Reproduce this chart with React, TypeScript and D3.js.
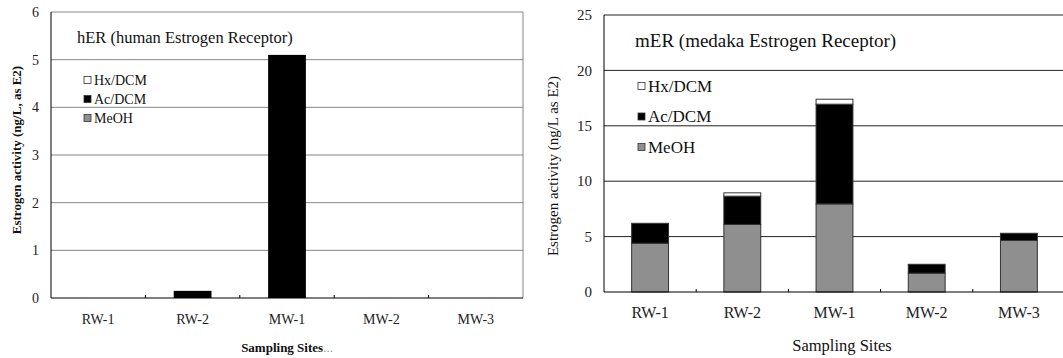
import React from "react";
import * as d3 from "d3";

const sites = ["RW-1", "RW-2", "MW-1", "MW-2", "MW-3"];
const fractions = ["MeOH", "Ac/DCM", "Hx/DCM"];
const legendOrder = ["Hx/DCM", "Ac/DCM", "MeOH"];

const hER_MeOH = [0, 0, 0, 0, 0];
const hER_AcDCM = [0, 0.15, 5.1, 0, 0];
const hER_HxDCM = [0, 0, 0, 0, 0];
const hER_ticks = [0, 1, 2, 3, 4, 5, 6];

const mER_MeOH = [4.4, 6.1, 7.95, 1.7, 4.65];
const mER_AcDCM = [1.8, 2.55, 9.0, 0.8, 0.65];
const mER_HxDCM = [0, 0.3, 0.45, 0, 0];
const mER_ticks = [0, 5, 10, 15, 20, 25];

const colors = { MeOH: "#8f8f8f", "Ac/DCM": "#000000", "Hx/DCM": "#ffffff" };

const FONT = "Liberation Serif, Times New Roman, DejaVu Serif, serif";

type ChartProps = {
  title: string;
  meoh: number[];
  ac: number[];
  hx: number[];
  ticks: number[];
  box: { left: number; right: number; top: number; bottom: number };
  gridColor: string;
  fontSize: number;
  catSize: number;
  titleSize: number;
  titlePos: [number, number];
  legendPos: [number, number];
  legendGap: number;
  legendSize: number;
  yLabel: string;
  yLabelPos: [number, number];
  yLabelBold: boolean;
  yLabelSize: number;
  xLabel: string;
  xLabelPos: [number, number];
  xLabelBold: boolean;
  xLabelSize: number;
  xLabelTail?: string;
  barStroke: string;
  barWidth: number;
  rightBorder: boolean;
};

const Chart = (p: ChartProps) => {
  const rows = sites.map((s, i) => ({ site: s, MeOH: p.meoh[i], "Ac/DCM": p.ac[i], "Hx/DCM": p.hx[i] }));
  const stacked = d3.stack<any>().keys(fractions)(rows);
  const x = d3.scaleBand().domain(sites).range([p.box.left, p.box.right]);
  const y = d3
    .scaleLinear()
    .domain([0, d3.max(p.ticks) as number])
    .range([p.box.bottom, p.box.top]);
  const bw = x.bandwidth() * p.barWidth;
  const boundaries = sites.slice(1).map((s) => x(s) as number);

  return (
    <g style={{ fontFamily: FONT }}>
      {/* gridlines */}
      {p.ticks
        .filter((t) => t > 0)
        .map((t) => (
          <line key={t} x1={p.box.left} x2={p.box.right} y1={y(t)} y2={y(t)} stroke={p.gridColor} strokeWidth={1} />
        ))}
      {p.rightBorder && (
        <line x1={p.box.right} x2={p.box.right} y1={p.box.top} y2={p.box.bottom} stroke={p.gridColor} strokeWidth={1} />
      )}
      {/* bars */}
      {stacked.map((layer) => (
        <g key={layer.key} fill={(colors as any)[layer.key]}>
          {layer.map((d, i) =>
            d[1] - d[0] > 0 ? (
              <rect
                key={i}
                x={(x(sites[i]) as number) + (x.bandwidth() - bw) / 2}
                y={y(d[1])}
                width={bw}
                height={y(d[0]) - y(d[1])}
                stroke={p.barStroke}
                strokeWidth={1}
              />
            ) : null
          )}
        </g>
      ))}
      {/* axes */}
      <line x1={p.box.left} x2={p.box.left} y1={p.box.top} y2={p.box.bottom} stroke="#000" />
      <line x1={p.box.left} x2={p.box.right} y1={p.box.bottom} y2={p.box.bottom} stroke="#000" strokeWidth={1.2} />
      {boundaries.map((b, i) => (
        <line key={i} x1={b} x2={b} y1={p.box.bottom} y2={p.box.bottom - 3} stroke="#000" />
      ))}
      {p.ticks.map((t) => (
        <text key={t} x={p.box.left - 12} y={y(t)} dy="0.35em" textAnchor="end" fontSize={p.fontSize} fill="#222">
          {t}
        </text>
      ))}
      {sites.map((s) => (
        <text
          key={s}
          x={(x(s) as number) + x.bandwidth() / 2}
          y={p.box.bottom + 26}
          textAnchor="middle"
          fontSize={p.catSize}
          fill="#222"
        >
          {s}
        </text>
      ))}
      {/* title */}
      <text x={p.titlePos[0]} y={p.titlePos[1]} dy="0.35em" fontSize={p.titleSize} fill="#111">
        {p.title}
      </text>
      {/* legend */}
      {legendOrder.map((k, i) => (
        <g key={k} transform={`translate(${p.legendPos[0]},${p.legendPos[1] + i * p.legendGap})`}>
          <rect x={0} y={-3.5} width={7} height={7} fill={(colors as any)[k]} stroke="#333" strokeWidth={0.8} />
          <text x={10} y={0} dy="0.35em" fontSize={p.legendSize} fill="#111">
            {k}
          </text>
        </g>
      ))}
      {/* axis titles */}
      <text
        transform={`translate(${p.yLabelPos[0]},${p.yLabelPos[1]}) rotate(-90)`}
        textAnchor="middle"
        dy="0.35em"
        fontSize={p.yLabelSize}
        fontWeight={p.yLabelBold ? "bold" : "normal"}
        fill="#111"
      >
        {p.yLabel}
      </text>
      <text
        x={p.xLabelPos[0]}
        y={p.xLabelPos[1]}
        dy="0.35em"
        textAnchor="middle"
        fontSize={p.xLabelSize}
        fontWeight={p.xLabelBold ? "bold" : "normal"}
        fill="#111"
      >
        {p.xLabel}
        {p.xLabelTail && (
          <tspan fontWeight="normal" fill="#999">
            {p.xLabelTail}
          </tspan>
        )}
      </text>
    </g>
  );
};

export default function App() {
  return (
    <svg width={1063} height={358} style={{ position: "absolute", left: 0, top: 0, background: "#fff" }}>
      <rect width={1063} height={358} fill="#fff" />
      <Chart
        title="hER (human Estrogen Receptor)"
        meoh={hER_MeOH}
        ac={hER_AcDCM}
        hx={hER_HxDCM}
        ticks={hER_ticks}
        box={{ left: 51, right: 523, top: 12, bottom: 298 }}
        gridColor="#858585"
        fontSize={14}
        catSize={14}
        titleSize={16.5}
        titlePos={[77, 37]}
        legendPos={[84, 80]}
        legendGap={19}
        legendSize={14}
        yLabel="Estrogen activity (ng/L, as E2)"
        yLabelPos={[16, 150]}
        yLabelBold={true}
        yLabelSize={13}
        xLabel="Sampling Sites"
        xLabelTail="..."
        xLabelPos={[287, 347]}
        xLabelBold={true}
        xLabelSize={13}
        barStroke="none"
        barWidth={0.4}
        rightBorder={true}
      />
      <Chart
        title="mER (medaka Estrogen Receptor)"
        meoh={mER_MeOH}
        ac={mER_AcDCM}
        hx={mER_HxDCM}
        ticks={mER_ticks}
        box={{ left: 604, right: 1065, top: 15, bottom: 292 }}
        gridColor="#222"
        fontSize={15}
        catSize={16}
        titleSize={19}
        titlePos={[635, 40]}
        legendPos={[638, 86]}
        legendGap={30.5}
        legendSize={17}
        yLabel="Estrogen activity (ng/L as E2)"
        yLabelPos={[553, 166]}
        yLabelBold={false}
        yLabelSize={15}
        xLabel="Sampling Sites"
        xLabelPos={[842, 345]}
        xLabelBold={false}
        xLabelSize={16.5}
        barStroke="#333"
        barWidth={0.4}
        rightBorder={false}
      />
    </svg>
  );
}
